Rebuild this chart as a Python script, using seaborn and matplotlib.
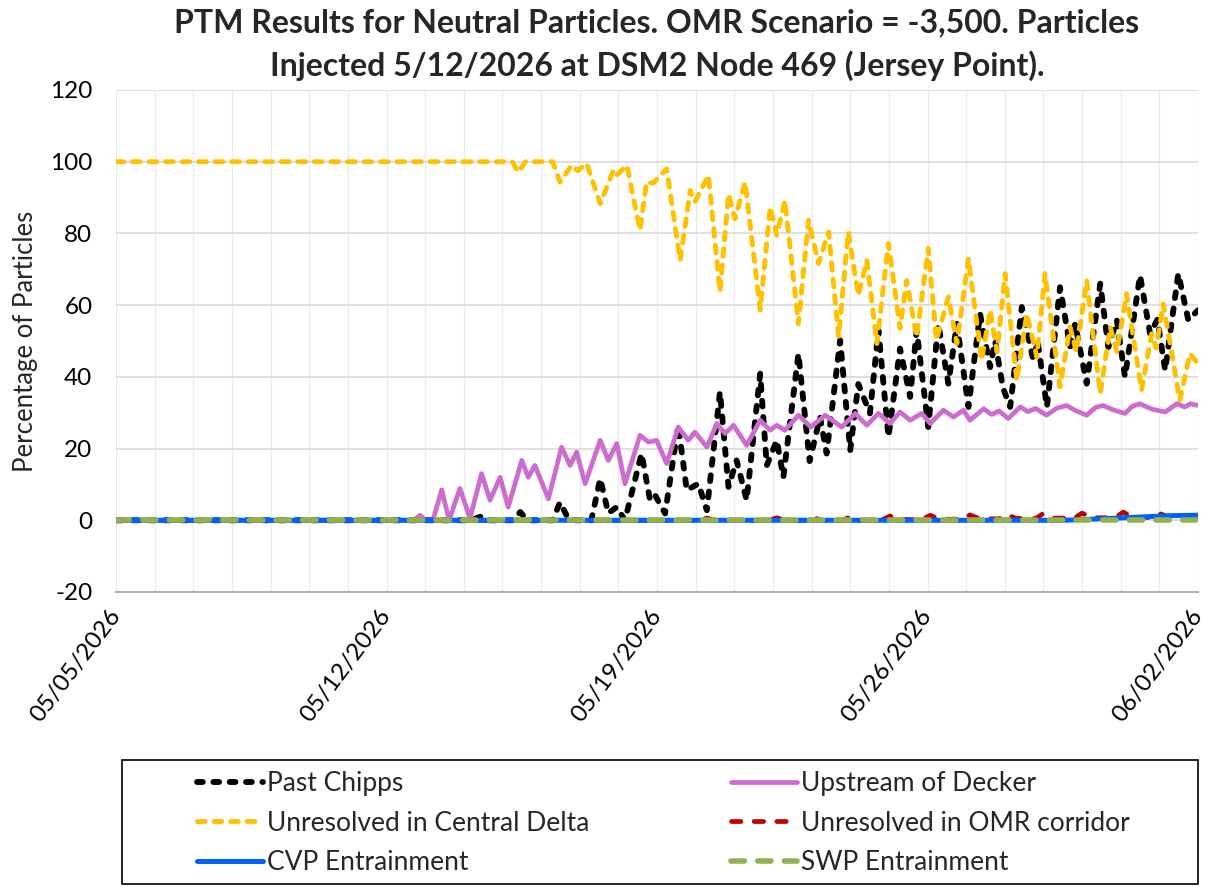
import matplotlib
matplotlib.use("Agg")
import matplotlib.pyplot as plt
import matplotlib.dates as mdates
from matplotlib.lines import Line2D
from matplotlib.patches import Rectangle
import numpy as np
import pandas as pd
import seaborn as sns

# Valeurs (jours depuis le 05/05/2026, % de particules)
START = pd.Timestamp("2026-05-05")

chipps_days = [0, 9.2, 9.42, 9.6, 10.3, 10.46, 10.65, 11.3, 11.49, 11.7, 11.9, 12.3, 12.53, 12.74,
               12.96, 13.17, 13.6, 13.82, 13.95, 14.21, 14.55, 14.77, 15.07, 15.29, 15.63, 15.85,
               16.06, 16.32, 16.67, 16.84, 17.1, 17.27, 17.66, 17.95, 18.22, 18.39, 18.74, 19.0,
               19.21, 19.51, 19.73, 19.99, 20.29, 20.55, 20.72, 21.02, 21.28, 21.54, 21.76, 22.06,
               22.36, 22.62, 22.75, 22.95, 23.14, 23.44, 23.74, 23.85, 24.09, 24.43, 24.69, 24.82,
               25.12, 25.47, 25.68, 25.9, 26.11, 26.5, 26.76, 26.95, 27.15, 27.49, 27.75, 28]
chipps_pct = [0, 0, 1, 0, 0, 2.3, 0, 0, 5, 0.5, 0, 0, 11.6, 2,
              3.7, 0, 18.6, 5.6, 7, 1.9, 26.5, 8.4, 10.2, 2.8, 35.8, 9.3,
              16.7, 5.6, 40.9, 15.3, 22.3, 12, 46.5, 16.5, 28.8, 18.6, 50.2, 19.5,
              38, 29.8, 53, 23.2, 47.9, 34.4, 53, 26, 54.8, 38.1, 54.8, 31.6,
              57.6, 42.7, 50, 37, 31.6, 59.5, 44.6, 50, 31.6, 65, 48.3, 54.8,
              38.1, 66, 48.3, 55.8, 40, 68.3, 52, 56, 41.8, 68.8, 55.8, 58.6]

decker_days = [0, 7.7, 7.87, 8.0, 8.2, 8.43, 8.62, 8.9, 9.16, 9.46, 9.68, 9.94, 10.15, 10.5,
               10.67, 10.84, 11.19, 11.53, 11.75, 11.92, 12.14, 12.53, 12.74, 12.96, 13.17, 13.56,
               13.78, 13.99, 14.25, 14.55, 14.81, 14.98, 15.29, 15.55, 15.76, 15.98, 16.32, 16.67,
               16.93, 17.1, 17.31, 17.66, 17.98, 18.35, 18.78, 19.13, 19.43, 19.73, 20.03, 20.29,
               20.55, 20.85, 21.07, 21.41, 21.67, 21.93, 22.1, 22.45, 22.66, 22.85, 23.09, 23.4,
               23.6, 23.8, 24.08, 24.35, 24.6, 24.85, 25.12, 25.35, 25.55, 25.8, 26.11, 26.3,
               26.5, 26.8, 27.15, 27.45, 27.66, 27.8, 28]
decker_pct = [0, 0, 1.4, 0, 0, 8.5, 0, 8.9, 0.5, 13, 5.6, 12, 3.7, 16.7,
              12, 15.3, 6, 20.4, 15.3, 19, 10.2, 22.3, 16.7, 21.4, 10.2, 23.7,
              21.8, 22.3, 15.8, 26, 22.3, 24.6, 20.4, 27, 24.2, 26.5, 20.9, 27.9,
              25.1, 26.5, 25.1, 29.3, 26, 29.3, 26, 29.8, 26.5, 29.8, 27, 30.2,
              27.9, 29.8, 27, 30.7, 28.8, 30.7, 27.9, 31.1, 29.5, 30.5, 28.4, 31.6,
              30.3, 31.2, 29.3, 31.3, 32, 30.5, 29.3, 31.5, 32, 30.8, 29.8, 31.8,
              32.5, 31, 30.2, 32.5, 31.6, 32.5, 32]

central_days = [0, 10.25, 10.41, 10.6, 11.3, 11.49, 11.79, 11.95, 12.18, 12.53, 12.87, 12.95,
                13.22, 13.56, 13.73, 13.9, 14.25, 14.6, 14.86, 14.98, 15.33, 15.63, 15.85, 16.02,
                16.28, 16.67, 16.93, 17.1, 17.31, 17.66, 17.92, 18.18, 18.44, 18.7, 18.95, 19.21,
                19.43, 19.69, 19.99, 20.29, 20.46, 20.72, 21.02, 21.23, 21.54, 21.76, 22.06, 22.4,
                22.62, 22.8, 23.01, 23.31, 23.57, 23.83, 24.04, 24.43, 24.69, 24.85, 25.12, 25.47,
                25.73, 25.9, 26.15, 26.54, 26.8, 26.92, 27.1, 27.53, 27.79, 28]
central_pct = [100, 100, 97.1, 100, 100, 94.3, 99, 97.5, 99.5, 88.3, 97.6, 96.2,
               99, 80.9, 94.3, 94, 98, 72.5, 92, 88.8, 96.2, 63.7, 91, 84.1,
               94.3, 58.6, 87.4, 79.5, 89.2, 54.8, 83.7, 71.6, 80.4, 51.1, 80.4, 62.7,
               72.5, 49.3, 77.2, 53.5, 66.9, 51.1, 75.8, 50.2, 62.3, 49.3, 73, 44.6,
               58.6, 47, 68.8, 39, 57.6, 45.5, 68.8, 37.2, 53.9, 47, 66.9, 35.3,
               53.9, 47, 63.2, 36.3, 52, 48, 60.4, 33.5, 46.5, 43.7]

omr_days = [0, 15.1, 15.3, 15.5, 16.9, 17.1, 17.3, 17.85, 18.05, 18.25, 18.8, 19.0, 19.2,
            19.8, 20.03, 20.25, 20.85, 21.07, 21.3, 21.9, 22.1, 22.35, 22.85, 23.05, 23.3,
            23.8, 24.0, 24.25, 24.8, 25.0, 25.25, 25.85, 26.07, 26.3, 26.8, 27.0, 27.25, 28]
omr_pct = [0, 0, 0.6, 0, 0, 0.7, 0, 0, 0.8, 0, 0, 1.0, 0,
           0, 1.2, 0.2, 0.2, 1.4, 0.3, 0.3, 1.5, 0.4, 0.4, 1.6, 0.5,
           0.5, 1.9, 0.6, 0.6, 2.0, 0.7, 0.7, 2.3, 0.8, 0.8, 1.9, 0.9, 1.0]

cvp_days = [0, 24.5, 25.5, 26.5, 27.3, 28]
cvp_pct = [0, 0, 0.4, 0.9, 1.3, 1.4]

swp_days = [0, 28]
swp_pct = [0, 0]

TITLE = ("PTM Results for Neutral Particles. OMR Scenario = -3,500. Particles\n"
         "Injected 5/12/2026 at DSM2 Node 469 (Jersey Point).")

sns.set_theme(style="white")
plt.rcParams["font.family"] = ["Lato", "DejaVu Sans"]
plt.rcParams["axes.unicode_minus"] = False


def to_dates(days):
    return START + pd.to_timedelta(np.asarray(days, dtype=float), unit="D")


fig = plt.figure(figsize=(12.11, 8.86), dpi=100)
ax = fig.add_axes([116 / 1211, 1 - 592 / 886, (1198 - 116) / 1211, (592 - 90) / 886])

series = [
    ("Past Chipps", chipps_days, chipps_pct, "#000000", 4.2, (0, (1.0, 1.8)), 2),
    ("Upstream of Decker", decker_days, decker_pct, "#cc6ccc", 3.4, "-", 3),
    ("Unresolved in Central Delta", central_days, central_pct, "#ffc000", 3.5, (0, (1.6, 1.8)), 4),
    ("Unresolved in OMR corridor", omr_days, omr_pct, "#c00000", 3.4, (0, (2.0, 2.8)), 5),
    ("CVP Entrainment", cvp_days, cvp_pct, "#0061ff", 3.6, "-", 6),
    ("SWP Entrainment", swp_days, swp_pct, "#92b050", 4.0, (0, (2.4, 2.4)), 7),
]

handles = {}
for label, days, pct, color, lw, ls, z in series:
    sns.lineplot(x=to_dates(days), y=pct, ax=ax, color=color, linewidth=lw,
                 linestyle=ls, dash_capstyle="round", solid_capstyle="butt",
                 estimator=None, sort=False, zorder=z)
    handles[label] = Line2D([], [], color=color, linewidth=lw, linestyle=ls,
                            dash_capstyle="round")

ax.set_xlim(START, START + pd.Timedelta(days=28))
ax.set_ylim(-20, 120)
ax.set_yticks(range(-20, 121, 20))
ax.xaxis.set_major_locator(mdates.DayLocator(bymonthday=[5, 12, 19, 26, 2]))
ax.xaxis.set_major_formatter(mdates.DateFormatter("%m/%d/%Y"))
ax.xaxis.set_minor_locator(mdates.DayLocator())
ax.grid(axis="y", which="major", color="#d9d9d9", linewidth=1.2)
ax.grid(axis="x", which="both", color="#ebebeb", linewidth=1.0)
ax.set_axisbelow(True)
for side in ["top", "right", "left"]:
    ax.spines[side].set_visible(False)
ax.spines["bottom"].set_color("#b0b0b0")
ax.spines["bottom"].set_linewidth(1.5)
ax.tick_params(axis="both", which="both", length=0, labelsize=17.5, colors="#000000")
ax.tick_params(axis="x", pad=14)
ax.tick_params(axis="y", pad=17)
for lbl in ax.get_xticklabels():
    lbl.set_rotation(53)
    lbl.set_rotation_mode("anchor")
    lbl.set_ha("right")
    lbl.set_va("center")
ax.set_xlabel("")
ax.set_ylabel("Percentage of Particles", fontsize=18.5, labelpad=9)
ax.set_title(TITLE, fontsize=23, fontweight="bold", pad=10, linespacing=1.5)

if ax.get_legend() is not None:
    ax.get_legend().remove()

order = ["Past Chipps", "Unresolved in Central Delta", "CVP Entrainment",
         "Upstream of Decker", "Unresolved in OMR corridor", "SWP Entrainment"]
fig.legend([handles[k] for k in order], order, ncol=2, frameon=False,
           loc="upper left", bbox_to_anchor=(184 / 1211, 1 - 758 / 886),
           fontsize=19, handlelength=2.5, handletextpad=0.15,
           columnspacing=5.35, labelspacing=0.55, borderpad=0)
fig.patches.append(Rectangle((122 / 1211, 2 / 886), (1198 - 122) / 1211, (884 - 760) / 886,
                             transform=fig.transFigure, fill=False,
                             edgecolor="#000000", linewidth=1.2))

fig.savefig("out.png", dpi=100)
